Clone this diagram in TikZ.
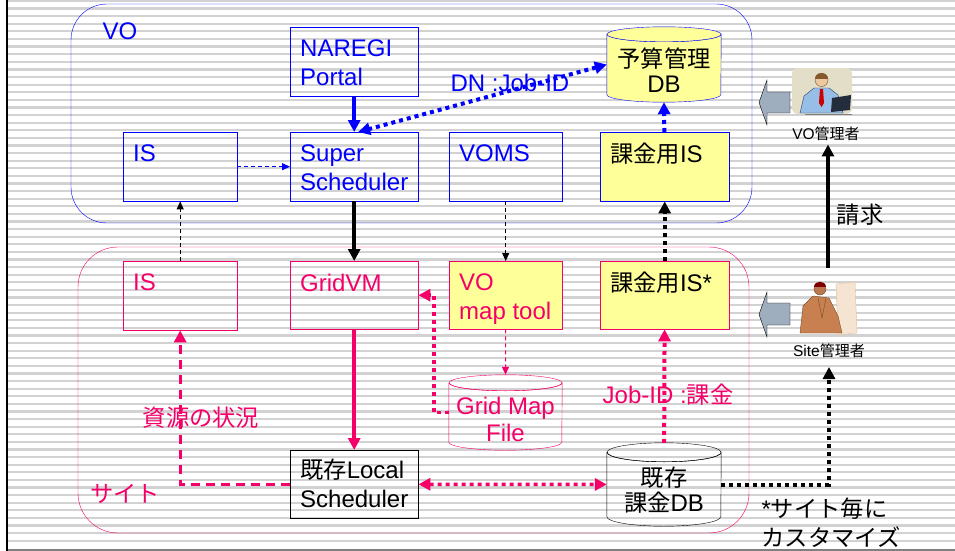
\documentclass[tikz,border=0pt]{standalone}
\usepackage{fontspec}
\setmainfont{Liberation Sans}
\newfontfamily\jp{Noto Sans CJK JP}[Scale=0.97]
\usetikzlibrary{arrows.meta,calc}

\definecolor{voblue}{RGB}{0,0,255}
\definecolor{sitepink}{RGB}{245,0,105}
\definecolor{notepad}{RGB}{255,255,153}
\definecolor{blockgray}{RGB}{158,174,190}
\definecolor{stripe}{RGB}{210,210,210}
\definecolor{skin}{RGB}{238,200,160}
\definecolor{shirt}{RGB}{150,190,230}
\definecolor{shirtline}{RGB}{40,60,110}
\definecolor{suit}{RGB}{200,128,80}
\definecolor{darkskin}{RGB}{185,120,80}
\definecolor{paper}{RGB}{226,222,200}
\definecolor{laptop}{RGB}{35,45,60}
\definecolor{screen}{RGB}{245,228,210}

\pgfdeclarelayer{paper}
\pgfdeclarelayer{background}
\pgfsetlayers{paper,background,main}

% raises the first line of a database label so the text sits below the lid
\newcommand\dblift{\rule{0pt}{31pt}}
% database drum behind a node: [options]{node}{line colour}{x radius}{y radius}
\newcommand\dbdrum[5][]{%
  \begin{pgfonlayer}{background}
    \path[draw=#3, #1] ($(#2.north west)+(0,#5)$) -- ($(#2.south west)+(0,-#5)$)
      arc(180:0:#4 and #5) -- ($(#2.north east)+(0,#5)$) arc(0:180:#4 and #5) -- cycle;
    \path[draw=#3, #1] ($(#2.north)+(0,#5)$) ellipse (#4 and #5);
  \end{pgfonlayer}}

\tikzset{
  box/.style={draw, anchor=north west, minimum width=#1, minimum height=69pt, inner sep=0pt},
  box/.default=128pt,
  boxtext/.style={anchor=north west, align=left, inner xsep=10pt, inner ysep=13pt},
  db/.style={minimum width=114pt, minimum height=#1, inner sep=0pt, align=center,
    font=\fontsize{24}{25}\selectfont},
  db/.default=75pt,
  solidarrow/.style={line width=3.5pt, -{Triangle[length=12pt,width=12pt]}},
  dotarrow/.style={line width=4pt, dash pattern=on 4pt off 4pt, -{Triangle[length=12pt,width=12pt]}},
  thindash/.style={line width=1pt, dash pattern=on 4pt off 3pt, -{Triangle[length=8pt,width=7pt]}},
  thickdash/.style={line width=3pt, dash pattern=on 9pt off 6pt, -{Triangle[length=12pt,width=12pt]}},
  small/.style={font=\fontsize{15.5}{18}\selectfont}
}

\begin{document}
\begin{tikzpicture}[x=1pt,y=-1pt,font=\fontsize{24}{29}\selectfont]
  \useasboundingbox (0,0) rectangle (955,551);
  % striped slide background
  \begin{pgfonlayer}{paper}
    \foreach \y in {1,8.6,...,548}
      \draw[stripe, line width=2.2pt] (8,\y) -- (955,\y);
    \draw[line width=2.5pt] (7,0) -- (7,551);
    \draw[gray, line width=1.5pt] (8,550) -- (955,550);
  \end{pgfonlayer}

  % the two domains
  \draw[voblue] (71,4) [rounded corners=36pt] rectangle (752,223);
  \draw[sitepink] (78,247) [rounded corners=40pt] rectangle (749,533);
  \node[voblue] (vo) at (120,31) {VO};
  \node[sitepink] (site) at (125,494) {\jp サイト};

  % VO side
  \node[box, draw=voblue, label={[boxtext, text=voblue]north west:NAREGI\\Portal}] (portal) at (290,27) {};
  \node[box=114pt, draw=voblue, label={[boxtext, text=voblue]north west:IS}] (vis) at (123,132) {};
  \node[box, draw=voblue, label={[boxtext, text=voblue]north west:Super\\Scheduler}] (ss) at (290,132) {};
  \node[box=113pt, draw=voblue, label={[boxtext, text=voblue]north west:VOMS}] (voms) at (449,132) {};
  \node[box=129pt, draw=voblue, fill=notepad, label={[boxtext, inner ysep=11pt]north west:{\jp 課金用}IS}] (vcharge) at (600,132) {};
  \node[db] (budget) at (664,64.5) {\dblift{\jp 予算管理}\\DB};
  \dbdrum[fill=notepad]{budget}{voblue}{57}{7.5}

  % site side
  \node[box=114pt, draw=sitepink, label={[boxtext, text=sitepink]north west:IS}] (sis) at (123,261) {};
  \node[box, minimum height=68pt, draw=sitepink, label={[boxtext, text=sitepink]north west:GridVM}] (gvm) at (290,261) {};
  \node[box=113pt, minimum height=68pt, draw=sitepink, fill=notepad, label={[boxtext, text=sitepink]north west:VO\\map tool}] (maptool) at (449,261) {};
  \node[box=129pt, minimum height=68pt, draw=sitepink, fill=notepad, label={[boxtext, inner ysep=11pt]north west:{\jp 課金用}IS*}] (scharge) at (600,261) {};
  \node[db, minimum width=113pt, text=sitepink, font=\fontsize{24}{27}\selectfont] (gridmap) at (505.5,412.5) {\dblift Grid Map\\File};
  \dbdrum{gridmap}{sitepink}{56.5}{8}
  \node[box, minimum height=68pt, label={[boxtext, inner ysep=9pt]north west:{\jp 既存}Local\\Scheduler}] (lsched) at (290,450) {};
  \node[db=83pt] (chargedb) at (664,484.5) {\dblift{\jp 既存}\\{\jp 課金}DB};
  \dbdrum{chargedb}{black}{57}{9.5}

  % flows inside the VO
  \draw[solidarrow, voblue] (portal) -- (ss);
  \draw[dotarrow, voblue, {Triangle[length=12pt,width=12pt]}-{Triangle[length=12pt,width=12pt]}]
    (budget.west) -- ($(ss.north)+(4,0)$);
  \node[voblue] (dnjob) at (510,83) {DN :Job-ID};
  \draw[thindash, voblue] (vis) -- (ss);
  \draw[dotarrow, voblue] (vcharge) -- (budget.south);

  % between VO and site
  \draw[solidarrow] (ss) -- (gvm);
  \draw[thindash] (sis) -- (vis);
  \draw[thindash] (voms) -- (maptool);
  \draw[dotarrow] (scharge) -- (vcharge);

  % flows inside the site
  \draw[solidarrow, sitepink] (gvm) -- (lsched);
  \draw[dotarrow, sitepink, line width=3.5pt] (gridmap.west) -- ++(-15,0) |- (gvm.east);
  \draw[thindash, sitepink] (maptool) -- (gridmap.north);
  \draw[thickdash, sitepink] (lsched.west) -| (sis.south);
  \node[sitepink] (res) at (201,418) {\jp 資源の状況};
  \draw[dotarrow, sitepink, line width=3.5pt, {Triangle[length=12pt,width=12pt]}-{Triangle[length=12pt,width=12pt]}]
    (lsched) -- (chargedb);
  \draw[dotarrow, sitepink] (chargedb) -- (scharge);
  \node[sitepink] (jobcharge) at (668,395) {Job-ID :{\jp 課金}};

  % administrators
  \fill[blockgray, draw=black] (790,92) -- (767,92) -- (767,80) -- (759,102.5)
    -- (767,125) -- (767,113) -- (790,113) -- cycle;
  \fill[blockgray, draw=black] (790,303) -- (767,303) -- (767,292) -- (759,314.5)
    -- (767,337) -- (767,325) -- (790,325) -- cycle;

  % VO manager at his laptop
  \fill[paper, rounded corners=6pt] (792,68) rectangle (852,114);
  \fill[shirt, draw=shirtline] (800,113) -- (804,96) -- (814,88) -- (829,88)
    -- (838,95) -- (843,113) -- cycle;
  \fill[red!80!black] (820,89) -- (823,89) -- (824,103) -- (821.5,107) -- (819,103) -- cycle;
  \fill[skin, draw=brown!60!black] (821.5,80) circle (6.5pt);
  \fill[brown!70!black] (815,79) .. controls (815,71) and (828,71) .. (828,79) -- cycle;
  \fill[laptop] (832,98) -- (851,95) -- (850,110) -- (831,112) -- cycle;
  \draw[gray] (805,114) -- (852,114);
  \node[small] (voadm) at (826,134) {VO{\jp 管理者}};

  % site manager at his desktop
  \fill[screen, draw=brown!50] (836,284) -- (855,282) -- (857,333) -- (838,335) -- cycle;
  \fill[suit, draw=brown!60!black] (800,333) -- (803,306) -- (813,296) -- (829,298) -- (838,316)
    -- (842,333) -- cycle;
  \draw[brown!60!black] (818,298) -- (822,318) -- (826,298);
  \fill[darkskin, draw=brown!60!black] (820,289) circle (6pt);
  \fill[red!50!black] (814,287) .. controls (814,280) and (826,280) .. (826,287) -- cycle;
  \node[small] (siteadm) at (829,351) {Site{\jp 管理者}};
  \coordinate (sitetop) at (828,268);
  \coordinate (sitefoot) at (829,367);

  \draw[solidarrow] (sitetop) -- (sitetop |- voadm.south);
  \node (bill) at (860,215) {\jp 請求};
  \draw[dotarrow] (chargedb.east) -| (sitefoot);
  \node[align=left, anchor=north west] (note) at (758,494) {*{\jp サイト毎に}\\{\jp カスタマイズ}};
\end{tikzpicture}
\end{document}
